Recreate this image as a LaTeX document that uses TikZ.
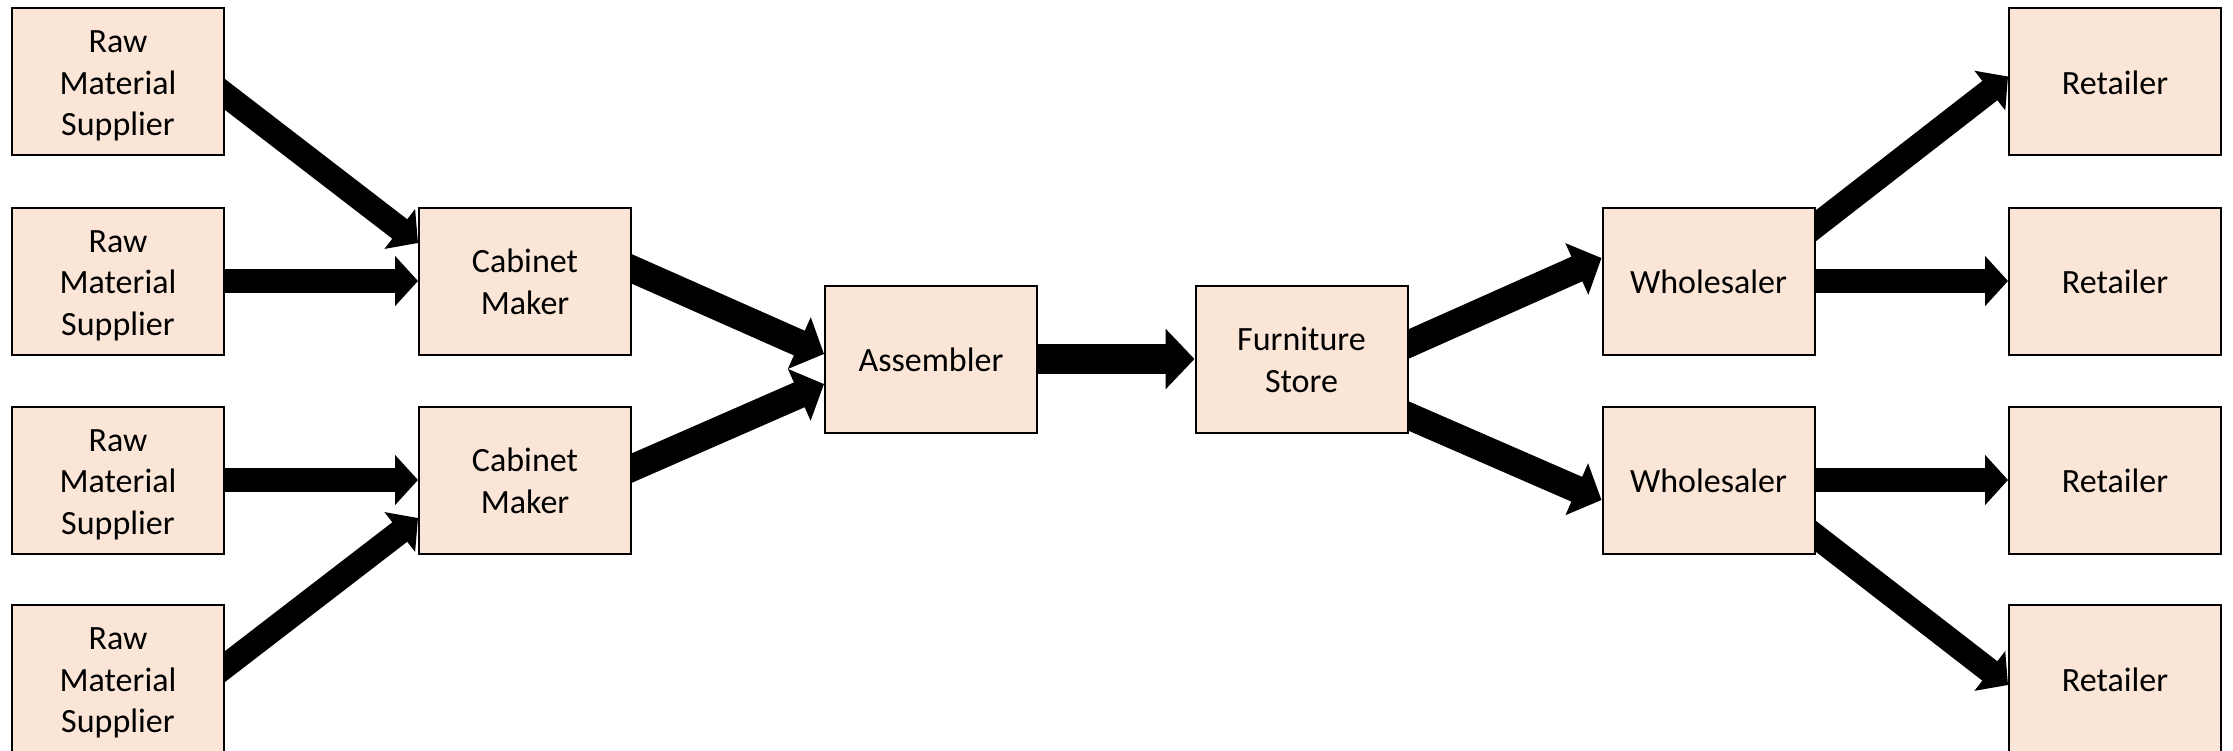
\documentclass[tikz,border=0pt]{standalone}
\usepackage{fontspec}
\setmainfont{Carlito}
\usetikzlibrary{arrows.meta,calc}
\pgfdeclarelayer{bg}
\pgfsetlayers{bg,main}
\definecolor{boxfill}{HTML}{FBE5D6}
\newcommand\Tst{\rule{0pt}{17pt}}
\newcommand\Bst{\rule[-4.3pt]{0pt}{4.3pt}}
\begin{document}
\begin{tikzpicture}[x=0.5pt,y=-0.5pt,
  box/.style={draw=black, line width=1pt, fill=boxfill, minimum width=106pt,
    minimum height=73.5pt, inner sep=0pt, align=center,
    font=\fontsize{17pt}{20.75pt}\selectfont},
  flowA/.style={line width=12.25pt, -{Triangle[length=11.5pt,width=24.5pt]}, shorten <=-6pt},
  flowB/.style={line width=13.5pt, -{Triangle[length=13.5pt,width=27.5pt]}, shorten <=-6pt},
  flowC/.style={line width=15pt, -{Triangle[length=14.5pt,width=29.5pt]}, shorten <=-6pt}]
\useasboundingbox (0,0) rectangle (2233,750);
% suppliers
\node[box] (rms1) at (118,81.5) {\Tst Raw\\Material\\Supplier\Bst};
\node[box] (rms2) at (118,281) {\Tst Raw\\Material\\Supplier\Bst};
\node[box] (rms3) at (118,480) {\Tst Raw\\Material\\Supplier\Bst};
\node[box] (rms4) at (118,678.5) {\Tst Raw\\Material\\Supplier\Bst};
% cabinet makers
\node[box] (cm1) at (525,281) {\Tst Cabinet\\Maker\Bst};
\node[box] (cm2) at (525,480) {\Tst Cabinet\\Maker\Bst};
% assembler, store
\node[box] (asm) at (931,359) {\Tst Assembler\Bst};
\node[box] (fs) at (1301.5,359) {\Tst Furniture\\Store\Bst};
% wholesalers
\node[box] (w1) at (1708.5,281) {\Tst Wholesaler\Bst};
\node[box] (w2) at (1708.5,480) {\Tst Wholesaler\Bst};
% retailers
\node[box] (r1) at (2115,81.5) {\Tst Retailer\Bst};
\node[box] (r2) at (2115,281) {\Tst Retailer\Bst};
\node[box] (r3) at (2115,480) {\Tst Retailer\Bst};
\node[box] (r4) at (2115,678.5) {\Tst Retailer\Bst};
\begin{pgfonlayer}{bg}
\fill[white] (0,0) rectangle (2233,750);
\draw[flowA] ($(rms1.east)+(0,13)$) -- ($(cm1.west)+(0,-38)$);
\draw[flowA] (rms2.east) -- (cm1.west);
\draw[flowA] (rms3.east) -- (cm2.west);
\draw[flowA] ($(rms4.east)+(0,-12)$) -- ($(cm2.west)+(0,38)$);
\draw[flowB] ($(cm1.east)+(0,-12)$) -- ($(asm.west)+(0,-5)$);
\draw[flowB] ($(cm2.east)+(0,-12)$) -- ($(asm.west)+(0,25)$);
\draw[flowC] (asm.east) -- (fs.west);
\draw[flowB] ($(fs.east)+(0,-15)$) -- ($(w1.west)+(0,-23)$);
\draw[flowB] ($(fs.east)+(0,57)$) -- ($(w2.west)+(0,20)$);
\draw[flowA] ($(w1.east)+(0,-55)$) -- ($(r1.west)+(0,-5)$);
\draw[flowA] (w1.east) -- (r2.west);
\draw[flowA] (w2.east) -- (r3.west);
\draw[flowA] ($(w2.east)+(0,56)$) -- ($(r4.west)+(0,6.5)$);
\end{pgfonlayer}
\end{tikzpicture}
\end{document}
